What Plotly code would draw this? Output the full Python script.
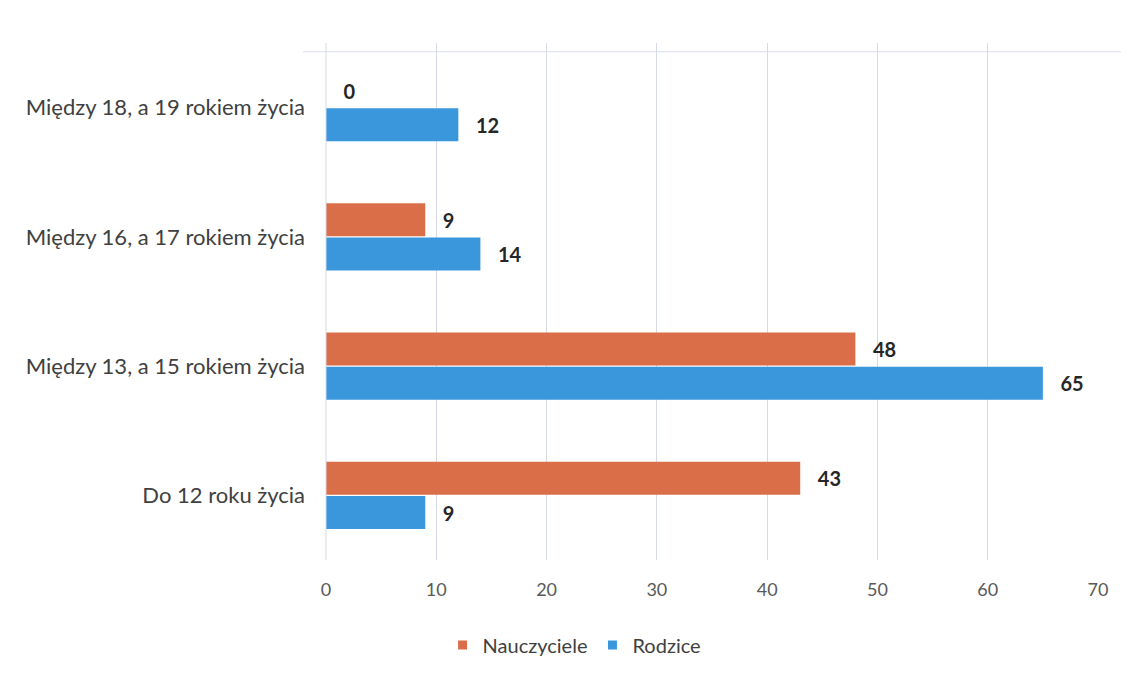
import plotly.graph_objects as go

categories = ["Do 12 roku życia", "Między 13, a 15 rokiem życia",
              "Między 16, a 17 rokiem życia", "Między 18, a 19 rokiem życia"]
nauczyciele = [43, 48, 9, 0]
rodzice = [9, 65, 14, 12]
x_ticks = [0, 10, 20, 30, 40, 50, 60, 70]

ORANGE = "#D96E48"
BLUE = "#3A97DC"
FONT = "Lato"
NB = "\u00a0\u00a0\u00a0"

fig = go.Figure()
fig.add_trace(go.Bar(
    y=categories, x=rodzice, name="Rodzice", orientation="h",
    marker=dict(color=BLUE, line=dict(width=0)),
    text=[NB + str(v) for v in rodzice], textposition="outside",
    textfont=dict(family=FONT, size=20, color="#262626", weight="bold"),
    cliponaxis=False, showlegend=False,
))
fig.add_trace(go.Bar(
    y=categories, x=nauczyciele, name="Nauczyciele", orientation="h",
    marker=dict(color=ORANGE, line=dict(width=0)),
    text=[NB + str(v) for v in nauczyciele], textposition="outside",
    textfont=dict(family=FONT, size=20, color="#262626", weight="bold"),
    cliponaxis=False, showlegend=False,
))
# legend entries with small square markers
fig.add_trace(go.Scatter(x=[None], y=[None], mode="markers", name="Nauczyciele",
                         marker=dict(symbol="square", size=9, color=ORANGE)))
fig.add_trace(go.Scatter(x=[None], y=[None], mode="markers", name="Rodzice",
                         marker=dict(symbol="square", size=9, color=BLUE)))

fig.update_layout(
    width=1121, height=667,
    margin=dict(l=318, r=31, t=35, b=114),
    paper_bgcolor="white", plot_bgcolor="white",
    barmode="group", bargap=0.47, bargroupgap=0.03,
    font=dict(family=FONT, color="#404040"),
    showlegend=True,
    legend=dict(orientation="h", x=0.322, xanchor="center", y=-0.162, yanchor="middle",
                font=dict(family=FONT, size=20, color="#404040"),
                itemwidth=30, tracegroupgap=0),
    xaxis=dict(range=[0, 70], tickvals=x_ticks, showgrid=True, gridcolor="#D6DAE6",
               gridwidth=1, zeroline=False, showline=False,
               tickfont=dict(family=FONT, size=18, color="#595959"),
               ticklabelstandoff=17),
    yaxis=dict(showgrid=False, zeroline=False, showline=False,
               type="category", categoryorder="array", categoryarray=categories,
               tickfont=dict(family=FONT, size=22, color="#404040"),
               ticklabelstandoff=20),
    shapes=[
        dict(type="line", xref="paper", yref="paper", x0=-0.03, x1=1.04,
             y0=0.983, y1=0.983, line=dict(color="#DADDE6", width=1)),
        dict(type="line", xref="paper", yref="paper", x0=0.0, x1=0.0,
             y0=0, y1=1, line=dict(color="#D6DAE6", width=1)),
    ],
)

fig.write_html("out.html")
